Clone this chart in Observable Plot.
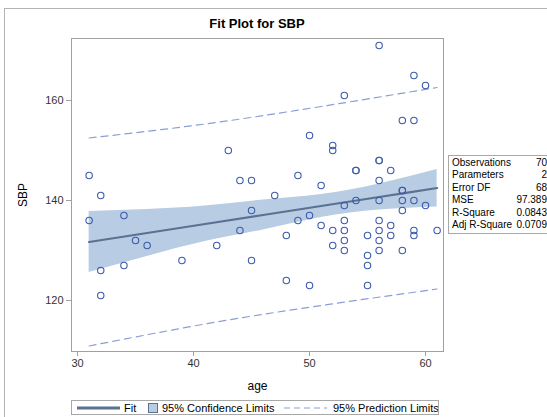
<!DOCTYPE html>
<html><head><meta charset="utf-8">
<script src="https://cdn.jsdelivr.net/npm/d3@7"></script>
<script src="https://cdn.jsdelivr.net/npm/@observablehq/plot@0.6"></script>
<style>
body{margin:0;width:547px;height:417px;overflow:hidden;background:#fff;font-family:"Liberation Sans",Arial,sans-serif;position:relative}
#outer{position:absolute;left:4px;top:8px;width:600px;height:500px;border:1px solid #b4b4b4;box-sizing:border-box}
#title{position:absolute;left:0;top:16px;width:514px;text-align:center;font-weight:bold;font-size:13px;line-height:16px;color:#000}
#chart{position:absolute;left:0;top:34px}
#stats{position:absolute;left:448px;top:155px;width:120px;border:1px solid #a8a8a8;background:#fff;font-size:10px;color:#000;padding:1px 0 2px 0}
#stats table{border-collapse:collapse;width:95px;margin-left:3px}
#stats td{padding:0;line-height:12.4px;white-space:nowrap}
#stats td.v{text-align:right}
#legend{position:absolute;left:71px;top:400px;width:368px;height:15px;border:1px solid #a8a8a8;box-sizing:border-box}
</style>
</head><body>
<div id="outer"></div>
<div id="title">Fit Plot for SBP</div>
<div id="chart"></div>
<div id="stats"></div>
<div id="legend"></div>
<script>
// observations (age, SBP)
const age = [31,32,31,34,35,36,32,34,39,32,42,43,44,45,44,45,45,47,48,48,49,49,50,50,50,51,51,52,52,52,52,53,53,53,53,53,53,54,54,54,55,55,55,55,56,56,56,56,56,56,56,56,56,57,57,57,58,58,58,58,58,58,59,59,59,59,59,60,60,61];
const sbp = [145,141,136,137,132,131,126,127,128,121,131,150,144,144,134,138,128,141,133,124,145,136,153,137,123,143,135,151,150,134,131,161,139,136,134,132,130,146,146,140,133,129,127,123,171,148,148,144,140,136,134,132,130,146,135,133,156,142,142,140,138,130,165,156,140,134,133,163,139,134];
// fitted line and limits read at sample ages
const fitAge = [31,36,41,46,51,56,61];
const fitVal = [131.7,133.5,135.3,137.1,138.9,140.7,142.5];
const clUpper = [137.8,138.2,138.9,140.1,141.2,143.3,146.2];
const clLower = [125.6,128.8,131.8,134.1,136.6,138.1,138.7];
const plAge = [31,41,51,61];
const plUpper = [152.5,155.3,158.8,162.6];
const plLower = [110.9,115.3,119.0,122.3];
const xTicks = [30,40,50,60];
const yTicks = [120,140,160];
const statLabels = ["Observations","Parameters","Error DF","MSE","R-Square","Adj R-Square"];
const statValues = ["70","2","68","97.389","0.0843","0.0709"];

const pts = age.map((a,i)=>({age:a, sbp:sbp[i]}));
const fit = fitAge.map((a,i)=>({age:a, fit:fitVal[i], lo:clLower[i], hi:clUpper[i]}));
const pl = plAge.map((a,i)=>({age:a, lo:plLower[i], hi:plUpper[i]}));

const cFit="#5b7190", cBand="#b8cce4", cPL="#8b9ed6", cPt="#3d5ba8";

const chart = Plot.plot({
  width:547, height:363,
  marginLeft:71, marginRight:104, marginTop:4, marginBottom:46,
  style:{fontFamily:"Liberation Sans, Arial, sans-serif", fontSize:"11px", background:"transparent", color:"#333"},
  x:{domain:[29.48,61.55]},
  y:{domain:[109.8,172.4]},
  marks:[
    Plot.areaY(fit,{x:"age", y1:"lo", y2:"hi", fill:cBand, curve:"natural"}),
    Plot.lineY(fit,{x:"age", y:"fit", stroke:cFit, strokeWidth:2.2, curve:"natural"}),
    Plot.lineY(pl,{x:"age", y:"hi", stroke:cPL, strokeWidth:1.2, strokeDasharray:"7,5", curve:"natural"}),
    Plot.lineY(pl,{x:"age", y:"lo", stroke:cPL, strokeWidth:1.2, strokeDasharray:"7,5", curve:"natural"}),
    Plot.dot(pts,{x:"age", y:"sbp", r:3.2, stroke:cPt, strokeWidth:1.1, fill:"none"}),
    Plot.frame({stroke:"#a0a0a0"}),
    Plot.axisX(xTicks,{tickSize:5, tickPadding:3, stroke:"#a0a0a0", fill:"#333", label:"age", labelAnchor:"center", labelOffset:38, labelArrow:"none"}),
    Plot.axisY(yTicks,{tickSize:5, tickPadding:3, stroke:"#a0a0a0", fill:"#333", label:"SBP", labelAnchor:"center", labelOffset:53, labelArrow:"none"})
  ]
});
document.getElementById("chart").appendChild(chart);
d3.select(chart).selectAll('[aria-label="x-axis label"], [aria-label="y-axis label"]').attr("font-size","12px").attr("fill","#000")
  .selectAll("text").each(function(){ this.textContent = this.textContent.replace(/[\u2190-\u2193]/g,"").trim(); });

// stats table
const tbl = d3.select("#stats").append("table");
statLabels.forEach((l,i)=>{
  const tr = tbl.append("tr");
  tr.append("td").text(l);
  tr.append("td").attr("class","v").text(statValues[i]);
});

// legend
const lg = d3.select("#legend").append("svg").attr("width",366).attr("height",13).style("display","block")
  .style("font-family","Liberation Sans, Arial, sans-serif").style("font-size","11px");
lg.append("line").attr("x1",5).attr("x2",48).attr("y1",7).attr("y2",7).attr("stroke",cFit).attr("stroke-width",3);
lg.append("text").attr("x",52).attr("y",11).text("Fit");
lg.append("rect").attr("x",76.5).attr("y",2.5).attr("width",9).attr("height",9).attr("fill",cBand).attr("stroke",cFit).attr("stroke-width",1);
lg.append("text").attr("x",90).attr("y",11).text("95% Confidence Limits");
lg.append("line").attr("x1",212).attr("x2",255).attr("y1",7).attr("y2",7).attr("stroke",cPL).attr("stroke-width",1.2).attr("stroke-dasharray","6,4");
lg.append("text").attr("x",261).attr("y",11).text("95% Prediction Limits");
</script>
</body></html>
